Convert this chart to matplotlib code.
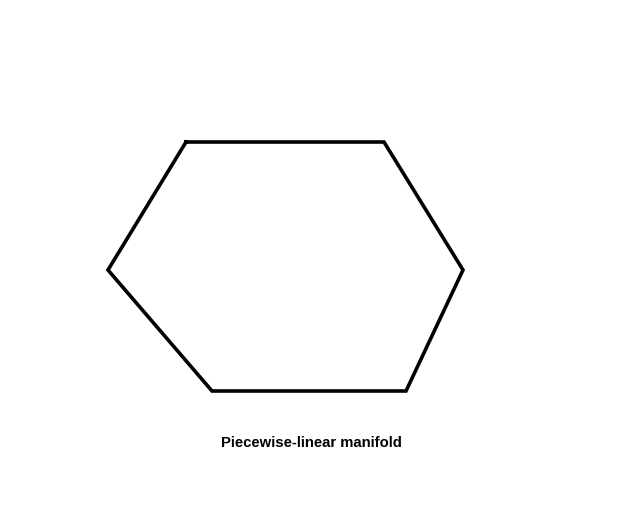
import matplotlib
matplotlib.use('Agg')
import matplotlib.pyplot as plt

# hexagon corners (pixel coords, y down)
corner_x = [186, 384, 463, 406, 212, 108]
corner_y = [142, 142, 270, 391, 391, 270]
caption = 'Piecewise-linear manifold'

fig = plt.figure(figsize=(6.4, 5.12), dpi=100)
ax = fig.add_axes([0, 0, 1, 1])
ax.set_xlim(0, 640)
ax.set_ylim(512, 0)
ax.axis('off')

xs = corner_x + corner_x[:1]
ys = corner_y + corner_y[:1]
ax.plot(xs, ys, color='black', linewidth=2.6, solid_joinstyle='miter')

ax.text(311.5, 443, caption, ha='center', va='center',
        fontsize=10.7, fontweight='bold', family='Liberation Sans')

fig.savefig('out.png', dpi=100, facecolor='white')
